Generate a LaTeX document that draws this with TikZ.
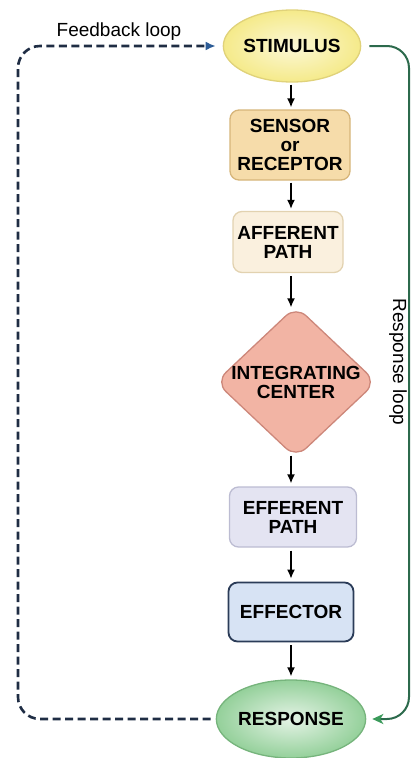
\documentclass[tikz,border=0pt]{standalone}
\usepackage{fontspec}
\setmainfont{Liberation Sans}
\usetikzlibrary{
	positioning			% relative placement
	, arrows.meta			% coloured arrow tips
	, shapes.geometric		% ellipse and diamond
	, calc
}

\definecolor{stimfill}{HTML}{F5EA8A}
\definecolor{stimline}{HTML}{E0D27A}
\definecolor{sensfill}{HTML}{F6DCAA}
\definecolor{sensline}{HTML}{D6B57A}
\definecolor{afffill}{HTML}{FAF0DE}
\definecolor{affline}{HTML}{E2D2B0}
\definecolor{intfill}{HTML}{F2B4A4}
\definecolor{intline}{HTML}{CD877A}
\definecolor{efffill}{HTML}{E4E4F2}
\definecolor{effline}{HTML}{BCBCD2}
\definecolor{efctfill}{HTML}{D7E3F4}
\definecolor{efctline}{HTML}{2B3C58}
\definecolor{respfill}{HTML}{94D09A}
\definecolor{respline}{HTML}{76B47C}
\definecolor{fbline}{HTML}{1F2D44}
\definecolor{fbtip}{HTML}{2C5C96}
\definecolor{rlline}{HTML}{2C6A4C}
\definecolor{rltip}{HTML}{3A9A5A}

\begin{document}
\begin{tikzpicture}[
		x=1pt, y=-1pt
		, stagefont/.style={font=\bfseries\fontsize{19}{19}\selectfont}
		, stage/.style={draw, line width=1.3pt, rounded corners=9pt, align=center, inner sep=0pt, stagefont}
		, oval/.style={ellipse, draw, line width=1.3pt, align=center, inner sep=0pt, stagefont}
		, flow/.style={-{Latex[length=9pt,width=8pt]}, line width=1.5pt, black}
		, feedback/.style={dash pattern=on 8pt off 4.5pt, line width=2.6pt, fbline, rounded corners=22pt}
		, respl/.style={line width=2pt, rlline, rounded corners=22pt}
		, looplabel/.style={font=\fontsize{19}{19}\selectfont, inner sep=0pt}
	]
	\useasboundingbox (0,0) rectangle (414,758);

	% Stages of the reflex, top to bottom
	\node[oval, draw=stimline, inner color=stimfill!35, outer color=stimfill, minimum width=128pt, minimum height=72pt] (stimulus) at (292,46) {STIMULUS};
	\node[stage, draw=sensline, fill=sensfill, minimum width=120pt, minimum height=70pt] (sensor) at (290,145) {SENSOR\\or\\RECEPTOR};
	\node[stage, draw=affline, fill=afffill, minimum width=110pt, minimum height=61pt] (afferent) at (288,242) {AFFERENT\\PATH};
	\node[diamond, draw=intline, fill=intfill, line width=1.3pt, rounded corners=14pt, minimum width=161pt, minimum height=152pt, inner sep=0pt,
		label={[align=center, stagefont]center:INTEGRATING\\CENTER}] (integrating) at (296,382) {};
	\node[stage, draw=effline, fill=efffill, minimum width=127pt, minimum height=60pt] (efferent) at (293,517) {EFFERENT\\PATH};
	\node[stage, draw=efctline, fill=efctfill, line width=1.8pt, minimum width=125pt, minimum height=59pt] (effector) at (291,612) {EFFECTOR};
	\node[oval, draw=respline, inner color=respfill!25, outer color=respfill, minimum width=138pt, minimum height=78pt] (response) at (291,719) {RESPONSE};

	% Arrows down the chain
	\foreach \a/\b/\s/\e in {stimulus/sensor/2pt/2pt, sensor/afferent/2pt/2pt, afferent/integrating/3pt/-2pt,
		integrating/efferent/-3pt/3pt, efferent/effector/3pt/3pt, effector/response/3pt/3pt} {
		\draw[flow, shorten <=\s, shorten >=\e] (\a.south -| effector) -- (\b.north -| effector);
	};

	% Feedback loop on the left
	\coordinate (fbleft) at (18,380);
	\draw[feedback, -{Latex[length=10pt,width=9pt,fbtip]}, shorten <=5pt, shorten >=7pt] (response.west) -| (fbleft) |- (stimulus.west);
	\node[looplabel] (fblabel) at (119,32) {Feedback loop};

	% Response loop on the right
	\coordinate (rlright) at (409,380);
	\draw[respl, -{Stealth[length=11pt,width=10pt,inset=3pt,rltip]}, shorten <=8pt, shorten >=6pt] (stimulus.east) -| (rlright) |- (response.east);
	\node[looplabel, rotate=-90] (rllabel) at (398,362) {Response loop};
\end{tikzpicture}
\end{document}
